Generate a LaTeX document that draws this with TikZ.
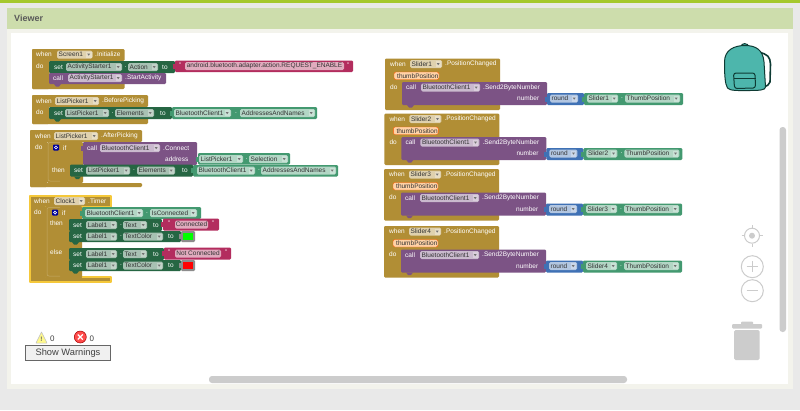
\documentclass[tikz,border=0pt]{standalone}
\usepackage{fontspec}
\setmainfont{Liberation Sans}
\definecolor{gold}{HTML}{B18E35}
\definecolor{setg}{HTML}{266643}
\definecolor{getg}{HTML}{439970}
\definecolor{strp}{HTML}{B32D5E}
\definecolor{purp}{HTML}{7C5385}
\definecolor{mathb}{HTML}{3F71B5}
\definecolor{pagebg}{HTML}{E9E9E9}
\definecolor{panelb}{HTML}{F3F3EC}
\definecolor{headg}{HTML}{CDDDAC}
\definecolor{topg}{HTML}{A5C82E}
\definecolor{uigray}{HTML}{CCCCCC}
\definecolor{teal}{HTML}{4DB6AC}
\definecolor{tealdk}{HTML}{0E3B34}
\definecolor{selected}{HTML}{F5C83A}
\newcount\nid
\newcommand\BK[5]{\fill[#1,rounded corners=1.2pt] (#2,#3) rectangle (#4,#5);}
\newcommand\TAB[3]{\fill[#1] ({#2-2},{#3-2.5}) rectangle ({#2+.5},{#3+2.5});}
\newcommand\WT[3]{\global\advance\nid by 1\relax\node[wtext] (w\the\nid) at (#1,#2) {#3};}
\newcommand\FD[4]{\global\advance\nid by 1\relax
  \fill[white,fill opacity=.6,rounded corners=1.5pt] (#1,{#3-4}) rectangle (#2,{#3+4});
  \fill[white,fill opacity=.3] ({#2-6.5},{#3-3}) rectangle ({#2-1},{#3+3});
  \fill[black!55] ({#2-5.3},{#3-1}) -- ({#2-2.3},{#3-1}) -- ({#2-3.8},{#3+1.2}) -- cycle;
  \node[ftext] (f\the\nid) at ({#1+1.5},#3) {#4};}
\newcommand\ST[4]{\global\advance\nid by 1\relax
  \fill[white,fill opacity=.6,rounded corners=1.5pt] (#1,{#3-4}) rectangle (#2,{#3+4});
  \node[ftext,anchor=center] (s\the\nid) at ({(#1+#2)/2},#3) {#4};}
\newcommand\GEAR[2]{\fill[blue!60!black,rounded corners=.8pt] ({#1-3},{#2-3}) rectangle ({#1+3},{#2+3});
  \draw[white,line width=.7pt] (#1,#2) circle (1.5pt);}
\newcommand\NOTCH[3]{\fill[#1] ({#2},{#3}) -- ({#2+2},{#3+2.5}) -- ({#2+5},{#3+2.5}) -- ({#2+7},{#3}) -- cycle;}
\newcommand\SLIDER[4]{\begin{scope}[shift={(#1,#2)}]
  \BK{gold}{385}{58.5}{500}{110}
  \WT{390}{64}{when}\FD{410}{442}{64}{#3}\WT{445}{64}{.PositionChanged}
  \fill[orange!35!white,draw=orange!70!red,line width=.4pt,rounded corners=2pt] (394,72) rectangle (439,79.5);
  \global\advance\nid by 1\relax\node[ftext] (t\the\nid) at (397,75.8) {thumbPosition};
  \WT{390}{87}{do}
  \BK{purp}{402}{82}{547}{105}
  \NOTCH{purp}{407}{105}
  \WT{406}{87.5}{call}\FD{421}{480}{87.5}{BluetoothClient1}\WT{483}{87.5}{.Send2ByteNumber}
  \WT{517}{98.5}{number}
  \BK{mathb}{547}{93}{584}{105}\TAB{mathb}{547}{99}
  \FD{550}{578}{98.5}{round}
  \BK{getg}{584}{93}{683}{105}\TAB{getg}{584}{99}
  \FD{587}{618}{98.5}{#4}\WT{621}{98.5}{.}\FD{625}{680}{98.5}{ThumbPosition}
\end{scope}}
\tikzset{
  wtext/.style={anchor=west,inner sep=0pt,text=white,font=\fontsize{6.5}{7}\selectfont},
  ftext/.style={anchor=west,inner sep=0pt,text=black!80,font=\fontsize{6.5}{7}\selectfont},
  hilite/.style={white,opacity=.25,line width=.5pt,rounded corners=2pt},
}
\begin{document}
\begin{tikzpicture}[x=1pt,y=-1pt]
\useasboundingbox (0,0) rectangle (800,410);
\fill[pagebg] (0,0) rectangle (800,410);
\fill[topg] (0,0) rectangle (800,2.5);
\fill[panelb] (7,8) rectangle (793,389);
\fill[headg] (7,8) rectangle (793,29);
\fill[white] (11,33) rectangle (788,383.5);
\node[anchor=west,inner sep=0pt,text=black!65,font=\bfseries\fontsize{9}{10}\selectfont] (viewer) at (14,18.5) {Viewer};

% Screen1.Initialize
\BK{gold}{32}{49}{124.5}{61}\BK{gold}{32}{49}{49.5}{89}\BK{gold}{32}{82}{124.5}{89}
\WT{36}{54.5}{when}\FD{57}{92.5}{54.5}{Screen1}\WT{95}{54.5}{.Initialize}
\WT{36}{66}{do}
\BK{setg}{49}{61}{175}{73}\BK{purp}{49}{73}{166}{84}\NOTCH{purp}{54}{84}
\WT{54}{67}{set}\FD{66}{122}{67}{ActivityStarter1}\WT{124.5}{67}{.}\FD{128}{158}{67}{Action}\WT{162}{67}{to}
\BK{strp}{175}{60.5}{353}{72}\TAB{strp}{175}{66}
\WT{179}{65}{"}\ST{185}{344}{66.2}{android.bluetooth.adapter.action.REQUEST\_ENABLE}\WT{347}{65}{"}
\WT{53}{78}{call}\FD{68}{122}{78}{ActivityStarter1}\WT{125}{78}{.StartActivity}

% ListPicker1.BeforePicking
\BK{gold}{32}{95}{148}{107}\BK{gold}{32}{95}{49}{124}\BK{gold}{32}{118}{148}{124}
\WT{36}{101}{when}\FD{55}{99}{101}{ListPicker1}\WT{102}{101}{.BeforePicking}
\WT{36}{112}{do}
\BK{setg}{49}{107}{172}{119}\NOTCH{setg}{54}{119}
\WT{54}{113}{set}\FD{65}{109}{113}{ListPicker1}\WT{111.5}{113}{.}\FD{115}{154}{113}{Elements}\WT{160}{113}{to}
\BK{getg}{172}{107}{317}{119}\TAB{getg}{172}{113}
\FD{174}{231}{113}{BluetoothClient1}\WT{235}{113}{.}\FD{240}{315}{113}{AddressesAndNames}

% ListPicker1.AfterPicking
\BK{gold}{30}{130}{142}{142}\BK{gold}{30}{130}{47}{187}\BK{gold}{30}{183}{142}{187}
\BK{gold}{47}{142}{83}{183}
\draw[hilite] (60,142.5) -- (48,142.5) -- (48,181) -- (60,181);
\WT{35}{136}{when}\FD{54}{98}{136}{ListPicker1}\WT{101}{136}{.AfterPicking}
\WT{35}{147}{do}\GEAR{56}{147.5}\WT{63}{148}{if}\WT{52}{170}{then}
\BK{purp}{83}{142}{197}{165}\TAB{purp}{83}{148}
\WT{87}{148}{call}\FD{100}{160}{148}{BluetoothClient1}\WT{163}{148}{.Connect}
\WT{165}{159}{address}
\BK{getg}{198}{153}{290}{164.5}\TAB{getg}{198}{159}
\FD{199}{243}{159}{ListPicker1}\WT{245.5}{159}{.}\FD{249}{288}{159}{Selection}
\BK{setg}{70}{164.5}{193}{176.5}\NOTCH{setg}{74}{176.5}
\WT{74}{170.5}{set}\FD{86}{130}{170.5}{ListPicker1}\WT{133}{170.5}{.}\FD{137}{175}{170.5}{Elements}\WT{182}{170.5}{to}
\BK{getg}{193}{165}{338}{176.5}\TAB{getg}{193}{170.5}
\FD{197}{255}{170.5}{BluetoothClient1}\WT{258}{170.5}{.}\FD{261}{336}{170.5}{AddressesAndNames}

% Clock1.Timer
\draw[selected,line width=2pt,line join=round,fill=gold] (30,196) -- (111,196) -- (111,207) -- (46,207) -- (46,277) -- (111,277) -- (111,282) -- (30,282) -- cycle;
\BK{gold}{45}{206}{82}{278.5}
\draw[hilite] (60,207.5) -- (47,207.5) -- (47,276) -- (60,276);
\WT{34}{201}{when}\FD{54}{85}{201}{Clock1}\WT{88}{201}{.Timer}
\WT{34}{212}{do}\GEAR{55}{212.5}\WT{62}{213}{if}\WT{50}{223}{then}\WT{50}{252}{else}
\BK{getg}{82}{207}{201}{219}\TAB{getg}{82}{213}
\FD{85}{143}{213}{BluetoothClient1}\WT{146}{213}{.}\FD{150}{197}{213}{IsConnected}
\BK{setg}{69}{219}{162}{231}
\WT{73}{225}{set}\FD{86}{117}{225}{Label1}\WT{120}{225}{.}\FD{123}{147}{225}{Text}\WT{153}{225}{to}
\BK{strp}{163}{218.5}{219}{230.5}\TAB{strp}{163}{224}
\WT{168}{223.5}{"}\ST{175}{208}{224.5}{Connected}\WT{212}{223.5}{"}
\BK{setg}{69}{231}{181}{242}\NOTCH{setg}{72}{242}
\WT{73}{236.5}{set}\FD{86}{117}{236.5}{Label1}\WT{120}{236.5}{.}\FD{123}{163}{236.5}{TextColor}\WT{168}{236.5}{to}
\BK{black!45}{181}{231}{195}{242}\TAB{black!45}{181}{236.5}\fill[green] (183,233) rectangle (193,240);
\BK{setg}{69}{248}{164}{260}
\WT{73}{254}{set}\FD{86}{117}{254}{Label1}\WT{120}{254}{.}\FD{123}{147}{254}{Text}\WT{153}{254}{to}
\BK{strp}{164}{247.5}{231}{259.5}\TAB{strp}{164}{253}
\WT{168}{252.5}{"}\ST{175}{221}{253.5}{Not Connected}\WT{225}{252.5}{"}
\BK{setg}{69}{260}{181}{271}\NOTCH{setg}{72}{271}
\WT{73}{265.5}{set}\FD{86}{117}{265.5}{Label1}\WT{120}{265.5}{.}\FD{123}{163}{265.5}{TextColor}\WT{168}{265.5}{to}
\BK{black!45}{181}{260}{195}{271}\TAB{black!45}{181}{265.5}\fill[red] (183,262) rectangle (193,269);

% Sliders
\SLIDER{0}{0}{Slider1}{Slider1}
\SLIDER{-.7}{55}{Slider2}{Slider2}
\SLIDER{-1}{110.5}{Slider3}{Slider3}
\SLIDER{-1}{167.5}{Slider4}{Slider4}

% Backpack
\draw[tealdk,line width=1.6pt,fill=white] (758,52) .. controls (768,54) and (770,57) .. (770.5,64) -- (770,82) .. controls (769,85) and (767,86) .. (764,87);
\draw[tealdk,line width=1pt,fill=teal] (741,47) .. controls (741,42.5) and (748,42.5) .. (749,47);
\draw[tealdk,line width=1pt,fill=teal] (724.5,62) .. controls (724.5,50) and (734,45.5) .. (745,45.5) .. controls (756,45.5) and (763,50) .. (764,62) -- (765.5,87) .. controls (765.5,90) and (760,90.5) .. (750,90.5) .. controls (738,90.5) and (730,91) .. (727.5,88) .. controls (725,84) and (724.5,75) .. (724.5,62) -- cycle;
\draw[tealdk,line width=1pt,rounded corners=2.5pt] (733.5,73) -- (755,73) -- (755.5,88) -- (734.5,88.5) -- cycle;
\draw[tealdk,line width=.8pt] (734,78) -- (755.5,78);

% Map controls
\draw[uigray,line width=1pt] (752,235.7) circle (7.5pt);
\fill[uigray] (752,235.7) circle (3pt);
\foreach \a/\b/\c/\d in {752/225/752/228,752/243.5/752/246.5,741.5/235.7/744.5/235.7,759.5/235.7/762.5/235.7}{\draw[uigray,line width=1pt] (\a,\b) -- (\c,\d);}
\draw[uigray,line width=1pt] (752.3,266.7) circle (11pt);
\draw[uigray,line width=1pt] (746.5,266.7) -- (758,266.7) (752.3,261) -- (752.3,272.4);
\draw[uigray,line width=1pt] (752.3,290.7) circle (11pt);
\draw[uigray,line width=1pt] (746.5,290.7) -- (758,290.7);
% Trash
\fill[uigray,rounded corners=1pt] (732,324) rectangle (762,328.5);
\fill[uigray,rounded corners=1pt] (741,321.5) rectangle (753,325);
\fill[uigray,rounded corners=1.5pt] (734,330) rectangle (759.5,360);
% Scrollbars
\fill[uigray,rounded corners=3pt] (779.5,127) rectangle (786,332);
\fill[uigray,rounded corners=3pt] (209,376) rectangle (627,383);
% Warnings
\fill[yellow!45!white,draw=black!25,line width=.5pt,line join=round] (41.5,332) -- (47,343) -- (36,343) -- cycle;
\node[inner sep=0pt,text=black!60,font=\bfseries\fontsize{6.5}{7}\selectfont] (bang) at (41.5,339) {!};
\node[anchor=west,inner sep=0pt,text=black!75,font=\fontsize{8}{9}\selectfont] (wcount) at (50,338.5) {0};
\fill[red!70!white,draw=red!65!black,line width=.5pt] (80.3,337) circle (6pt);
\draw[white,line width=1.2pt] (77.8,334.5) -- (82.8,339.5) (77.8,339.5) -- (82.8,334.5);
\node[anchor=west,inner sep=0pt,text=black!75,font=\fontsize{8}{9}\selectfont] (ecount) at (89.5,338.5) {0};
\node[draw=black!60,fill=black!6,line width=.8pt,minimum width=85pt,minimum height=15pt,inner sep=0pt,text=black!75,font=\fontsize{9.3}{10}\selectfont] (warnbtn) at (68,353) {Show Warnings};
\end{tikzpicture}
\end{document}
